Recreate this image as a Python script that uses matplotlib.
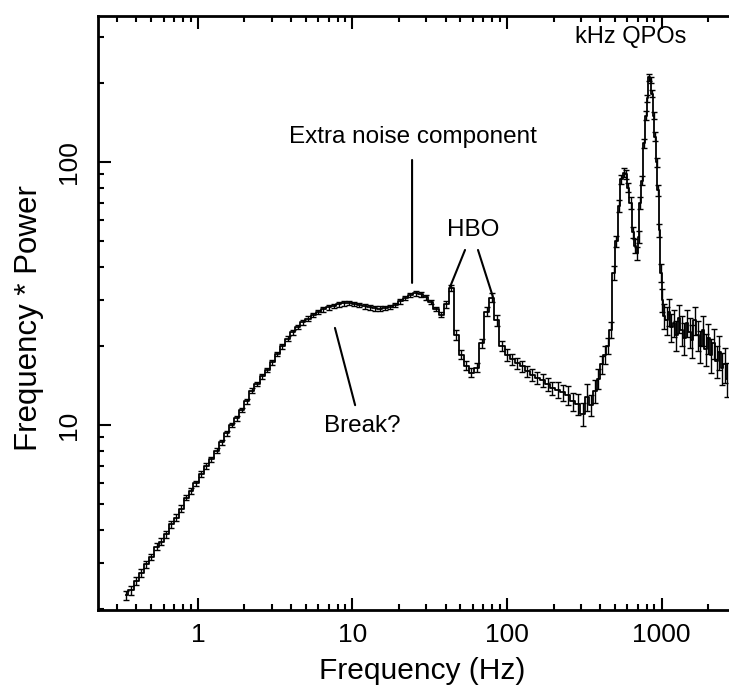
import matplotlib
matplotlib.use("Agg")
import matplotlib.pyplot as plt
import numpy as np

# === DATA ===
freq = [
    0.34, 0.37, 0.40, 0.43, 0.46, 0.50, 0.54, 0.58, 0.62, 0.67,
    0.72, 0.78, 0.84, 0.90, 0.97, 1.05, 1.13, 1.22, 1.32, 1.42,
    1.53, 1.65, 1.78, 1.92, 2.07, 2.23, 2.41, 2.60, 2.80, 3.02,
    3.26, 3.52, 3.80, 4.10, 4.42, 4.77, 5.15, 5.56, 6.00, 6.48,
    7.00, 7.55, 8.15, 8.80, 9.50, 10.3, 11.1, 12.0, 12.9, 13.9,
    15.0, 16.2, 17.5, 18.9, 20.4, 22.0, 23.7, 25.6, 27.6, 29.8,
    32.1, 34.7, 37.4, 40.3, 43.5, 46.9, 50.6, 54.6, 58.9, 63.5,
    68.5, 73.9, 79.7, 86.0, 92.8, 100, 108, 116, 125, 135,
    146, 157, 170, 183, 197, 213, 229, 247, 267, 288,
    310, 330, 350, 370, 390, 410, 430, 450, 470, 490,
    510, 530, 550, 570, 590, 610, 630, 650, 670, 690,
    710, 730, 750, 770, 790, 810, 830, 850, 870, 890,
    910, 930, 950, 970, 990, 1010, 1040, 1080, 1120, 1160,
    1200, 1250, 1300, 1350, 1400, 1460, 1520, 1580, 1640, 1710,
    1780, 1850, 1930, 2010, 2090, 2180, 2270, 2360, 2460, 2560,
    2670,
]
power = [
    2.25, 2.35, 2.55, 2.75, 2.95, 3.15, 3.45, 3.6, 3.85, 4.2,
    4.45, 4.8, 5.3, 5.6, 6.0, 6.5, 7.0, 7.4, 8.0, 8.6,
    9.3, 10.0, 10.6, 11.4, 12.3, 13.5, 14.3, 15.3, 16.2, 17.3,
    18.6, 19.9, 21.3, 22.5, 23.6, 24.6, 25.4, 26.2, 26.9, 27.5,
    28.0, 28.4, 28.8, 29.0, 29.1, 28.9, 28.6, 28.3, 28.0, 27.8,
    27.7, 27.9, 28.1, 28.6, 29.5, 30.4, 31.2, 31.7, 31.4, 30.6,
    29.4, 27.6, 26.3, 28.8, 33.2, 22.0, 18.5, 16.8, 15.8, 16.5,
    20.5, 27.0, 30.5, 25.0, 20.0, 18.5, 17.8, 17.2, 16.7, 16.0,
    15.5, 15.1, 14.8, 14.3, 13.8, 13.6, 13.3, 13.0, 12.3, 12.0,
    11.0, 12.8, 11.9, 13.5, 15.0, 17.0, 18.5, 20.0, 23.0, 38.0,
    50.0, 68.0, 86.0, 91.0, 90.0, 80.0, 70.0, 54.0, 48.0, 45.0,
    52.0, 70.0, 85.0, 118.0, 150.0, 175.0, 210.0, 205.0, 182.0, 150.0,
    125.0, 100.0, 78.0, 55.0, 38.0, 30.0, 26.0, 25.0, 27.0, 23.5,
    24.5, 22.0, 25.5, 23.0, 21.5, 24.5, 22.5, 21.0, 25.0, 22.0,
    20.0, 23.0, 19.5, 21.5, 18.5, 20.5, 17.5, 19.0, 16.5, 17.0,
    15.0,
]
rel_err = [
    0.04, 0.04, 0.035, 0.035, 0.03, 0.03, 0.03, 0.03, 0.03, 0.03,
    0.03, 0.03, 0.025, 0.025, 0.025, 0.025, 0.025, 0.025, 0.02, 0.02,
    0.02, 0.02, 0.02, 0.02, 0.02, 0.02, 0.02, 0.02, 0.02, 0.02,
    0.02, 0.02, 0.02, 0.02, 0.02, 0.02, 0.02, 0.02, 0.02, 0.02,
    0.02, 0.02, 0.02, 0.02, 0.02, 0.02, 0.02, 0.02, 0.02, 0.02,
    0.02, 0.02, 0.02, 0.02, 0.02, 0.02, 0.02, 0.02, 0.02, 0.02,
    0.02, 0.02, 0.025, 0.03, 0.03, 0.04, 0.04, 0.04, 0.04, 0.04,
    0.04, 0.04, 0.04, 0.045, 0.045, 0.05, 0.05, 0.05, 0.05, 0.05,
    0.05, 0.05, 0.06, 0.06, 0.06, 0.07, 0.07, 0.08, 0.08, 0.09,
    0.10, 0.12, 0.09, 0.10, 0.09, 0.08, 0.08, 0.07, 0.07, 0.06,
    0.05, 0.05, 0.04, 0.04, 0.04, 0.04, 0.05, 0.05, 0.06, 0.06,
    0.05, 0.05, 0.04, 0.04, 0.04, 0.03, 0.03, 0.03, 0.03, 0.03,
    0.04, 0.04, 0.05, 0.06, 0.08, 0.10, 0.11, 0.12, 0.12, 0.12,
    0.12, 0.13, 0.12, 0.13, 0.14, 0.12, 0.13, 0.14, 0.12, 0.13,
    0.14, 0.13, 0.14, 0.13, 0.15, 0.13, 0.14, 0.15, 0.14, 0.15,
    0.15,
]

freq = np.array(freq)
power = np.array(power)
yerr = power * np.array(rel_err)

plt.rcParams['font.family'] = ['Liberation Sans', 'DejaVu Sans']

fig = plt.figure(figsize=(7.29, 6.90), dpi=100)
ax = fig.add_axes([0.1344, 0.1159, 0.8656, 0.8609])

ax.step(freq, power, where='mid', color='black', lw=1.3)
ax.errorbar(freq, power, yerr=yerr, fmt='none', ecolor='black',
            elinewidth=1.0, capsize=2, capthick=1.0)

ax.set_xscale('log')
ax.set_yscale('log')
ax.set_xlim(0.2253, 2734)
ax.set_ylim(1.98, 359)

ax.set_xticks([1, 10, 100, 1000])
ax.set_xticklabels(['1', '10', '100', '1000'])
ax.set_yticks([10, 100])
ax.set_yticklabels(['10', '100'])

ax.tick_params(which='both', direction='in', top=True, right=False,
               width=1.5, colors='black')
ax.tick_params(which='major', length=9)
ax.tick_params(which='minor', length=4.5)
ax.tick_params(axis='x', labelsize=19, pad=9)
ax.tick_params(axis='y', labelsize=19, pad=12, labelrotation=90)
for lab in ax.get_yticklabels():
    lab.set_va('center')

for side in ['left', 'bottom', 'top']:
    ax.spines[side].set_linewidth(2)
ax.spines['right'].set_visible(False)

# axis titles placed in figure coords so they sit where the scan has them
fig.text(0.579, 0.028, "Frequency (Hz)", fontsize=21.5, ha='center', va='center')
fig.text(0.040, 0.539, "Frequency * Power", fontsize=22.5, ha='center',
         va='center', rotation=90)

# === Annotations ===
line_kw = dict(arrowstyle='-', color='black', lw=1.5, shrinkA=0, shrinkB=0)
ax.text(24.6, 125, "Extra noise component", fontsize=17.5, ha='center', va='center')
ax.annotate('', xy=(24.3, 34.7), xytext=(24.3, 101.8), arrowprops=line_kw)

ax.text(60.3, 55.1, "HBO", fontsize=17.5, ha='center', va='center')
ax.annotate('', xy=(42.8, 33.5), xytext=(53.5, 46.3), arrowprops=line_kw)
ax.annotate('', xy=(81.1, 30.7), xytext=(64.9, 46.3), arrowprops=line_kw)

ax.text(11.5, 9.9, "Break?", fontsize=17.5, ha='center', va='center')
ax.annotate('', xy=(7.7, 23.4), xytext=(10.4, 11.9), arrowprops=line_kw)

ax.text(635, 299, "kHz QPOs", fontsize=17, ha='center', va='center')

plt.savefig("out.png", dpi=100)
